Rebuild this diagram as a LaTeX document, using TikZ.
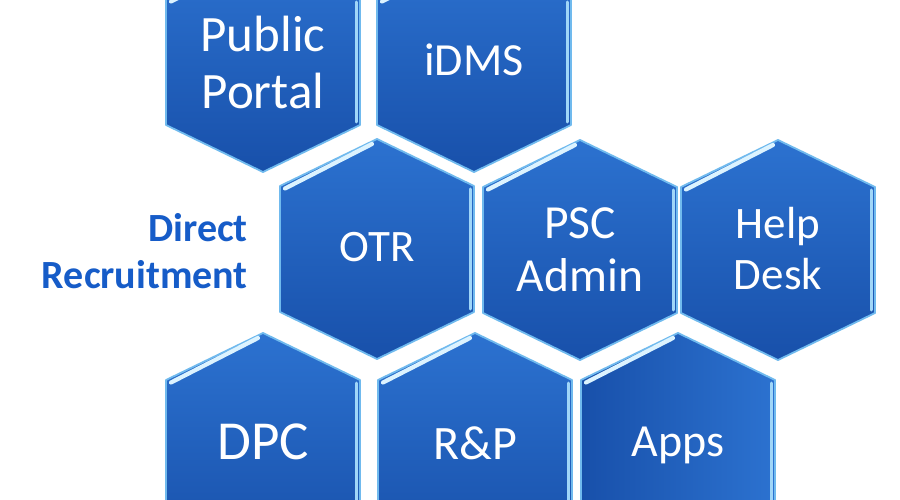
\documentclass[tikz,border=0pt]{standalone}
\usepackage{fontspec}
\setmainfont{Carlito}
\definecolor{hexTop}{RGB}{44,114,208}
\definecolor{hexBot}{RGB}{24,80,170}
\definecolor{hexEdge}{RGB}{112,186,238}
\definecolor{hexHi}{RGB}{220,243,255}
\definecolor{hexHiR}{RGB}{160,214,248}
\definecolor{drBlue}{RGB}{22,92,200}
\tikzset{
  vshade/.style={top color=hexTop, bottom color=hexBot},
  hshade/.style={left color=hexBot, right color=hexTop},
  hextext/.style={text=white, align=center, inner sep=0pt},
}
% #1 x, #2 y, #3 fill style
\newcommand\hexcell[3]{%
  \path[#3, draw=hexEdge, line width=1.8pt, line join=round]
    (#1,#2-110) -- (#1+97,#2-63) -- (#1+97,#2+63) -- (#1,#2+110)
    -- (#1-97,#2+63) -- (#1-97,#2-63) -- cycle;
  \draw[hexHi, line width=4.2pt, line cap=round] (#1-92,#2-60.5) -- (#1-5,#2-105);
  \draw[hexHiR, line width=3pt, line cap=round] (#1+93.5,#2-60) -- (#1+93.5,#2+60);
}
\begin{document}
\begin{tikzpicture}[x=1pt, y=-1pt]
\useasboundingbox (0,0) rectangle (900,500);
\clip (0,0) rectangle (900,500);
\fill[white] (0,0) rectangle (900,500);

\hexcell{263}{62}{vshade}
\hexcell{474}{62}{vshade}
\hexcell{377}{249}{vshade}
\hexcell{580}{250}{vshade}
\hexcell{778}{250}{vshade}
\hexcell{263}{443}{vshade}
\hexcell{475}{443}{vshade}
\hexcell{678}{443}{hshade}

\node[hextext, font=\fontsize{51}{57}\selectfont] (portal) at (263,62) {Public\\Portal};
\node[hextext, text depth=0pt, font=\fontsize{46}{52}\selectfont] (idms) at (474,60) {iDMS};
\node[hextext, text depth=0pt, font=\fontsize{45}{50}\selectfont] (otr) at (377,247) {OTR};
\node[hextext, font=\fontsize{47.5}{53}\selectfont] (psc) at (580,250) {PSC\\Admin};
\node[hextext, font=\fontsize{45}{51}\selectfont] (help) at (778,249) {Help\\Desk};
\node[hextext, text depth=0pt, font=\fontsize{55}{60}\selectfont] (dpc) at (263,442) {DPC};
\node[hextext, text depth=0pt, font=\fontsize{48}{53}\selectfont] (rp) at (475,443) {R\&P};
\node[hextext, text depth=0pt, font=\fontsize{46}{52}\selectfont] (apps) at (678,442) {Apps};

\node[text=drBlue, align=right, anchor=east, inner sep=0pt,
      font=\bfseries\fontsize{40}{47}\selectfont] (dr) at (248,251) {Direct\\Recruitment};
\end{tikzpicture}
\end{document}
